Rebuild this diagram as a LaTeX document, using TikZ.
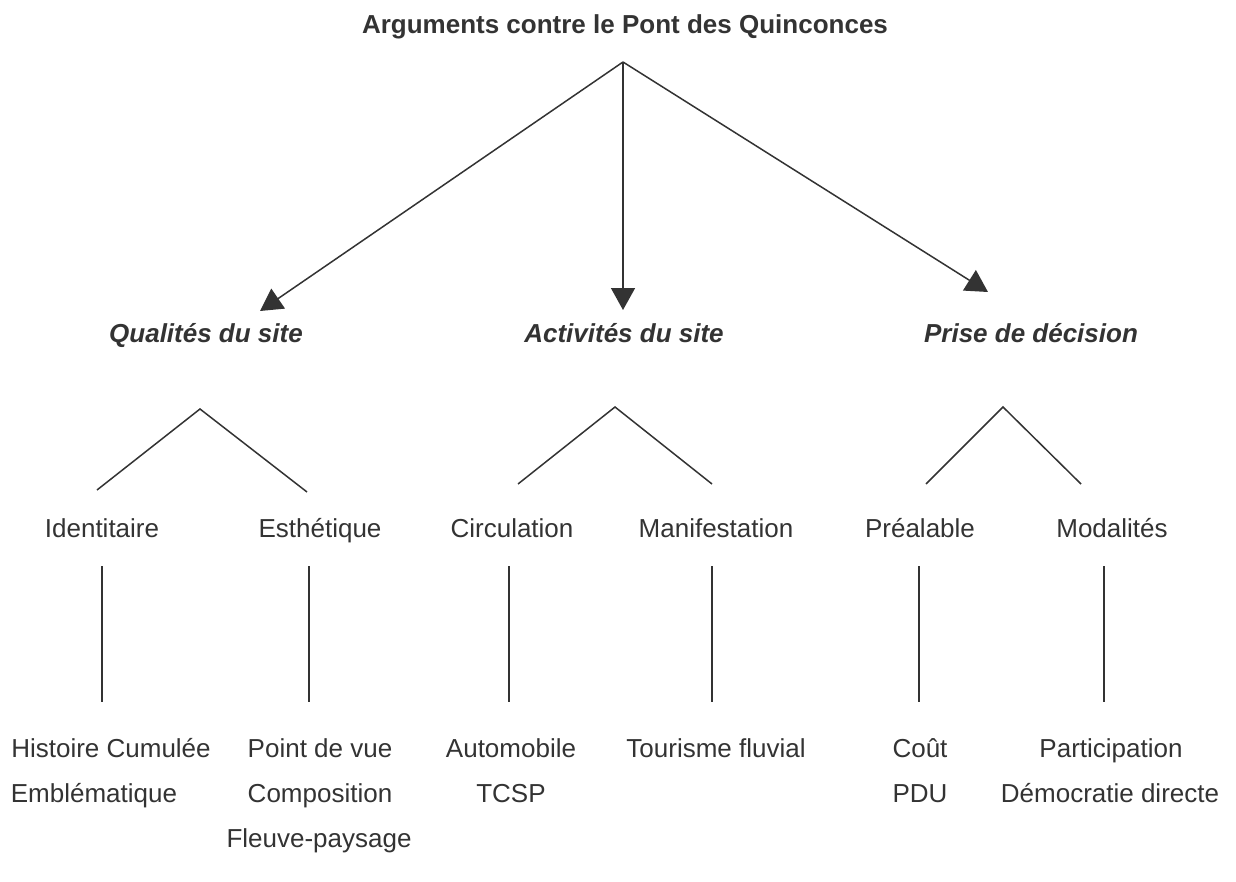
\documentclass[tikz,border=0pt]{standalone}
\usepackage{fontspec}
\setmainfont{Liberation Sans}
\usetikzlibrary{arrows.meta}
\definecolor{gris}{HTML}{333333}
\tikzset{
	titre/.style={font=\fontsize{13}{15}\selectfont\bfseries,text=gris,inner sep=0pt,anchor=base},
	theme/.style={font=\fontsize{13}{15}\selectfont\bfseries\itshape,text=gris,inner sep=0pt,anchor=base},
	critere/.style={font=\fontsize{13}{15}\selectfont,text=gris,inner sep=0pt,anchor=base},
	fleche/.style={draw=gris,line width=0.75pt,-{Triangle[length=11pt,width=12pt]}},
	lien/.style={draw=gris,line width=0.75pt}
}

\begin{document}
\begin{tikzpicture}[x=0.5pt,y=-0.5pt]
	\useasboundingbox (0,0) rectangle (1236,882);

	\node [titre] (titre) at (625,34) {Arguments contre le Pont des Quinconces};
	\coordinate (sommet) at (623,62);

	\node [theme] (qualites) at (206,342) {Qualités du site};
	\node [theme] (activites) at (624,342) {Activités du site};
	\node [theme] (decision) at (1031,342) {Prise de décision};

	\coordinate (pq) at (260,311);
	\coordinate (pa) at (623,310);
	\coordinate (pd) at (988,292);
	\draw [fleche] (sommet) -- (pq);
	\draw [fleche] (sommet) -- (pa);
	\draw [fleche] (sommet) -- (pd);

	\coordinate (sq) at (200,409);
	\coordinate (sq1) at (97,490);
	\coordinate (sq2) at (307,492);
	\draw [lien] (sq1) -- (sq) -- (sq2);

	\coordinate (sa) at (615,407);
	\coordinate (sa1) at (518,484);
	\coordinate (sa2) at (712,484);
	\draw [lien] (sa1) -- (sa) -- (sa2);

	\coordinate (sd) at (1003,407);
	\coordinate (sd1) at (926,484);
	\coordinate (sd2) at (1081,484);
	\draw [lien] (sd1) -- (sd) -- (sd2);

	\node [critere] (identitaire) at (102,537) {Identitaire};
	\node [critere] (esthetique) at (320,537) {Esthétique};
	\node [critere] (circulation) at (512,537) {Circulation};
	\node [critere] (manifestation) at (716,537) {Manifestation};
	\node [critere] (prealable) at (920,537) {Préalable};
	\node [critere] (modalites) at (1112,537) {Modalités};

	\coordinate (ih) at (102,566);
	\coordinate (ib) at (102,702);
	\coordinate (eh) at (309,566);
	\coordinate (eb) at (309,702);
	\coordinate (ch) at (509,566);
	\coordinate (cb) at (509,702);
	\coordinate (mh) at (712,566);
	\coordinate (mb) at (712,702);
	\coordinate (ph) at (919,566);
	\coordinate (pb) at (919,702);
	\coordinate (oh) at (1104,566);
	\coordinate (ob) at (1104,702);
	\draw [lien] (ih) -- (ib);
	\draw [lien] (eh) -- (eb);
	\draw [lien] (ch) -- (cb);
	\draw [lien] (mh) -- (mb);
	\draw [lien] (ph) -- (pb);
	\draw [lien] (oh) -- (ob);

	\node [critere] (histoire) at (111,757) {Histoire Cumulée};
	\node [critere] (emblematique) at (94,802) {Emblématique};
	\node [critere] (pointdevue) at (320,757) {Point de vue};
	\node [critere] (composition) at (320,802) {Composition};
	\node [critere] (fleuve) at (319,847) {Fleuve-paysage};
	\node [critere] (automobile) at (511,757) {Automobile};
	\node [critere] (tcsp) at (511,802) {TCSP};
	\node [critere] (tourisme) at (716,757) {Tourisme fluvial};
	\node [critere] (cout) at (920,757) {Coût};
	\node [critere] (pdu) at (920,802) {PDU};
	\node [critere] (participation) at (1111,757) {Participation};
	\node [critere] (democratie) at (1110,802) {Démocratie directe};
\end{tikzpicture}
\end{document}
